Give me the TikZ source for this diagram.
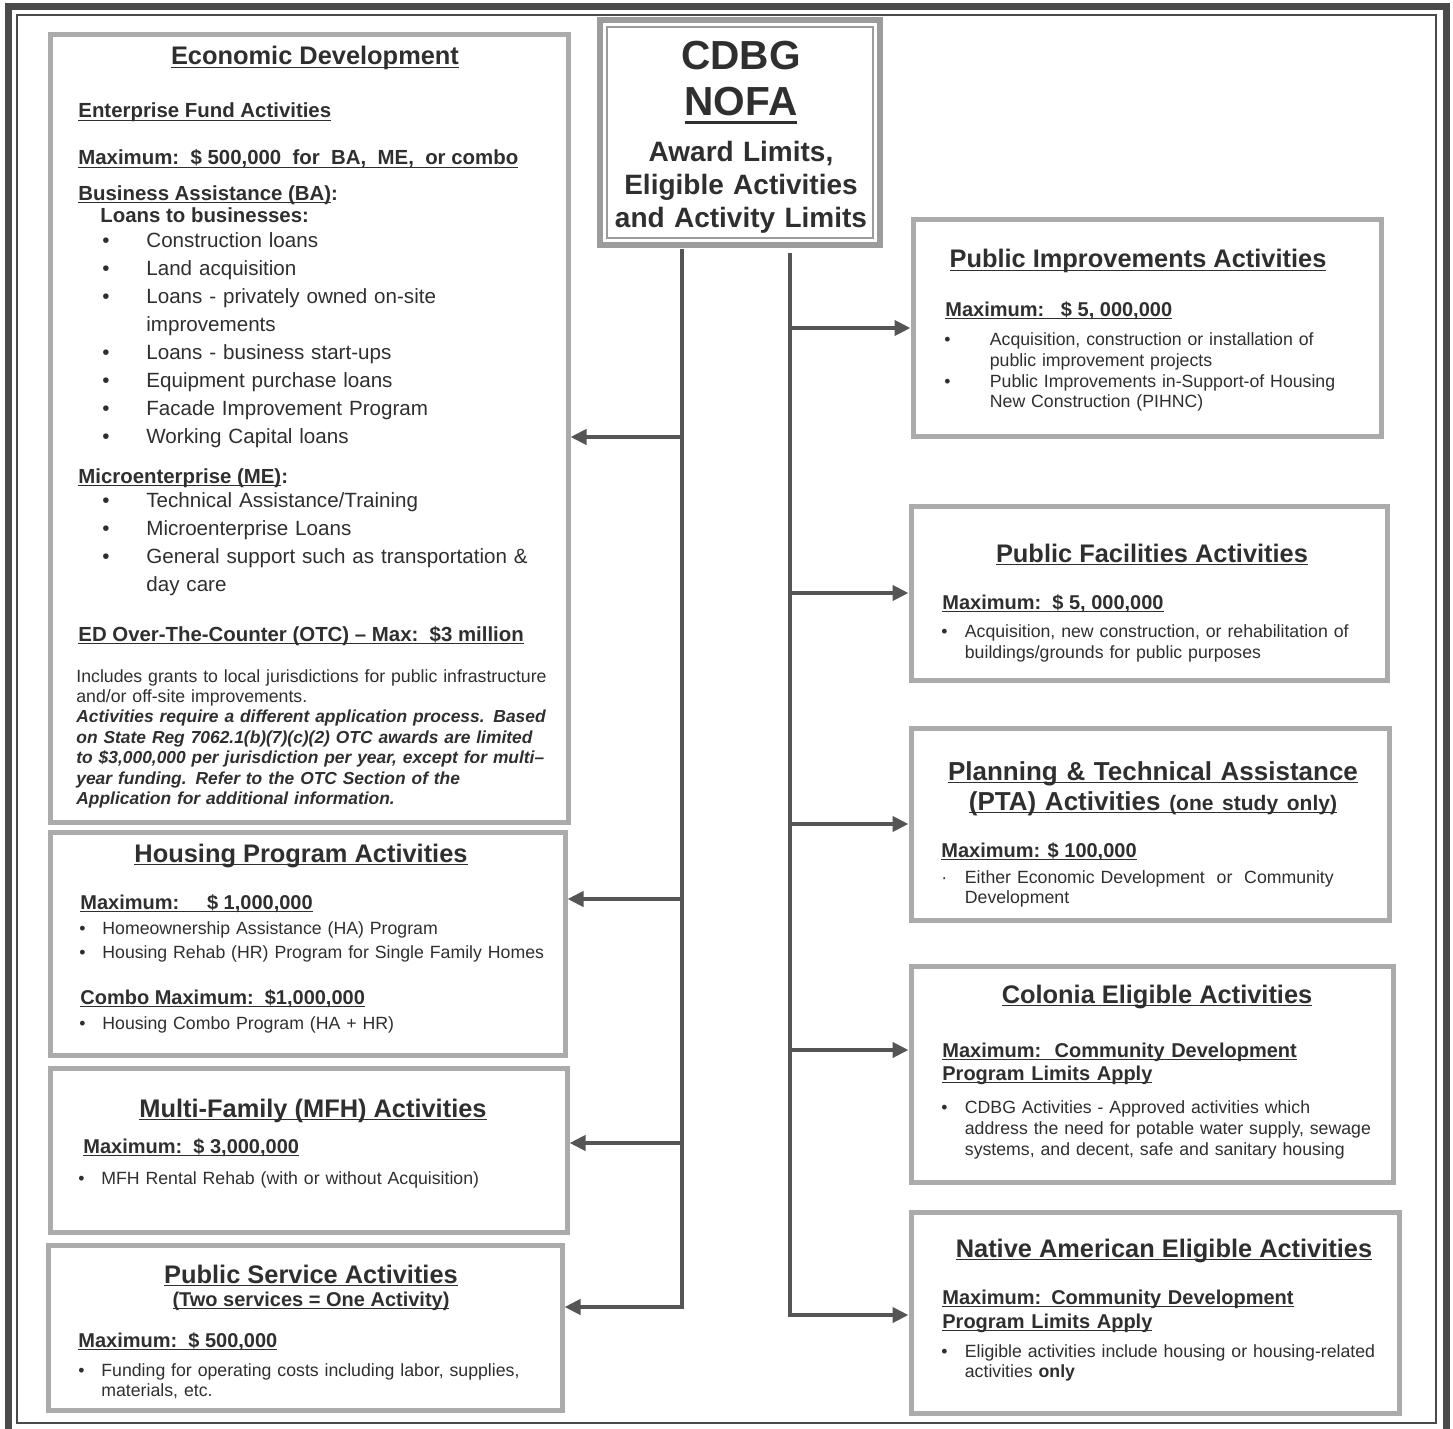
\documentclass[tikz,border=0pt]{standalone}
\usepackage{fontspec}
\setmainfont{Liberation Sans}
\usepackage{tikz}
\usetikzlibrary{arrows.meta,fit}
\definecolor{nofaInk}{HTML}{2F2F2F}
\definecolor{nofaBox}{HTML}{ABABAB}
\definecolor{nofaTitle}{HTML}{9C9C9C}
\definecolor{nofaLine}{HTML}{555555}
\definecolor{nofaFrame}{HTML}{4A4A4A}

% underline at a fixed depth, as the scanned sheet has it
\newlength{\ulthick}
\setlength{\ulthick}{0.7pt}
\newcommand{\uln}[2][1.7pt]{\leavevmode\setbox0=\hbox{#2}\rlap{\rule[-#1]{\wd0}{\ulthick}}\box0}
% bullet line with hanging indent
\newlength{\bulind}
\newcommand{\bitem}[2][\textbullet]{\hangindent=\bulind\hangafter=1\makebox[\bulind][l]{#1}#2\par}
\newcommand{\edfont}{\fontsize{10.3}{14}\selectfont}

\begin{document}
\begin{tikzpicture}[x=0.5pt, y=-0.5pt,
  box/.style={draw=nofaBox, line width=2.5pt, fill=white, inner sep=0pt},
  head/.style={anchor=base, inner sep=0pt, text=nofaInk, font=\fontsize{12.7}{15}\selectfont\bfseries},
  sub/.style={anchor=base west, inner sep=0pt, text=nofaInk, font=\fontsize{10}{11.5}\selectfont\bfseries},
  txt/.style={anchor=base west, inner sep=0pt, text=nofaInk, text width=250pt, align=left},
  spine/.style={draw=nofaLine, line width=2pt},
  link/.style={spine, -{Triangle[length=8pt, width=7.5pt]}}]
\useasboundingbox (0,0) rectangle (1453,1429);

% frame
\draw[nofaFrame, line width=3.5pt] (8,1429) -- (8,7) -- (1446,7) -- (1446,1429);
\draw[nofaFrame, line width=0.8pt] (17,15) rectangle (1436,1423);

% title
\node[box, draw=nofaTitle, line width=3pt, fit={(600,20) (880,245)}] (title) {};
\draw[nofaTitle, line width=0.8pt] ([shift={(5pt,-5pt)}]title.north west) rectangle ([shift={(-5pt,5pt)}]title.south east);
\node[anchor=base, inner sep=0pt, text=nofaInk, text width=135pt, align=center, font=\fontsize{20.3}{23}\selectfont\bfseries] (cdbg) at (741,70) {CDBG\\{\setlength{\ulthick}{1.5pt}\uln[4.2pt]{NOFA}}};
\node[anchor=base, inner sep=0pt, text=nofaInk, text width=135pt, align=center, font=\fontsize{14}{16.5}\selectfont\bfseries] (tsub) at (741,162) {Award Limits,\\Eligible Activities\\and Activity Limits};

% boxes
\node[box, fit={(50,35) (568,822)}] (ed) {};
\node[box, fit={(50,832) (565,1055)}] (hp) {};
\node[box, fit={(50,1068) (567,1232)}] (mfh) {};
\node[box, fit={(48,1245) (562,1410)}] (ps) {};
\node[box, fit={(913,220) (1381,436)}] (pi) {};
\node[box, fit={(911,506) (1387,680)}] (pf) {};
\node[box, fit={(911,728) (1389,920)}] (pta) {};
\node[box, fit={(911,966) (1393,1182)}] (col) {};
\node[box, fit={(911,1212) (1399,1413)}] (nat) {};

% economic development
\node[head] (edhead) at (315,65) {\uln{Economic Development}};
\node[sub, font=\fontsize{10.2}{12}\selectfont\bfseries] (edfund) at (78,118) {\uln{Enterprise Fund Activities}};
\node[sub, font=\fontsize{10.2}{12}\selectfont\bfseries] (edmax) at (78,165) {\uln{Maximum:\ \ \$ 500,000\ \ for\ \ BA,\ \ ME,\ \ or combo}};
\node[sub, font=\fontsize{10.2}{12}\selectfont\bfseries] (edba) at (78,200) {\uln{Business Assistance (BA)}:};
\node[sub, font=\fontsize{10.2}{12}\selectfont\bfseries] (edloans) at (100,223) {Loans to businesses:};
\node[txt, font=\edfont] (edbalist) at (102,248) {\setlength{\bulind}{22pt}%
  \bitem{Construction loans}\bitem{Land acquisition}%
  \bitem{Loans - privately owned on-site\newline improvements}%
  \bitem{Loans - business start-ups}\bitem{Equipment purchase loans}%
  \bitem{Facade Improvement Program}\bitem{Working Capital loans}};
\node[sub, font=\fontsize{10.2}{12}\selectfont\bfseries] (edme) at (78,483) {\uln{Microenterprise (ME)}:};
\node[txt, font=\edfont] (edmelist) at (102,507) {\setlength{\bulind}{22pt}%
  \bitem{Technical Assistance/Training}\bitem{Microenterprise Loans}%
  \bitem{General support such as transportation \&\newline day care}};
\node[sub, font=\fontsize{10.2}{12}\selectfont\bfseries] (edotc) at (78,641) {\uln{ED Over-The-Counter (OTC) -- Max:\ \ \$3 million}};
\node[txt, font=\fontsize{8.85}{10.2}\selectfont] (ednote) at (76,682) {Includes grants to local jurisdictions for public infrastructure\newline
  and/or off-site improvements.\newline
  {\bfseries\itshape\fontsize{8.7}{10.2}\selectfont Activities require a different application process. Based\newline
  on State Reg 7062.1(b)(7)(c)(2) OTC awards are limited\newline
  to \$3,000,000 per jurisdiction per year, except for multi--\newline
  year funding. Refer to the OTC Section of the\newline
  Application for additional information.}};

% housing
\node[head] (hphead) at (301,862) {\uln{Housing Program Activities}};
\node[sub] (hpmax) at (80,909) {\uln{Maximum:\ \ \ \ \ \$ 1,000,000}};
\node[txt, font=\fontsize{8.85}{12}\selectfont] (hplist) at (79,934) {\setlength{\bulind}{11.5pt}%
  \bitem{Homeownership Assistance (HA) Program}%
  \bitem{Housing Rehab (HR) Program for Single Family Homes}};
\node[sub] (hpcombo) at (80,1004) {\uln{Combo Maximum:\ \ \$1,000,000}};
\node[txt, font=\fontsize{8.85}{12}\selectfont] (hpcombolist) at (79,1029) {\setlength{\bulind}{11.5pt}%
  \bitem{Housing Combo Program (HA + HR)}};

% multi-family
\node[head] (mfhhead) at (313,1117) {\uln{Multi-Family (MFH) Activities}};
\node[sub] (mfhmax) at (83,1153) {\uln{Maximum:\ \ \$ 3,000,000}};
\node[txt, font=\fontsize{8.85}{10.5}\selectfont] (mfhlist) at (78,1184) {\setlength{\bulind}{11.5pt}%
  \bitem{MFH Rental Rehab (with or without Acquisition)}};

% public service
\node[head] (pshead) at (311,1283) {\uln{Public Service Activities}};
\node[sub, anchor=base] (psnote) at (311,1306) {\uln{(Two services = One Activity)}};
\node[sub] (psmax) at (78,1347) {\uln{Maximum:\ \ \$ 500,000}};
\node[txt, font=\fontsize{8.85}{10}\selectfont] (pslist) at (78,1376) {\setlength{\bulind}{11.5pt}%
  \bitem{Funding for operating costs including labor, supplies,\newline materials, etc.}};

% public improvements
\node[head] (pihead) at (1138,268) {\uln{Public Improvements Activities}};
\node[sub] (pimax) at (945,316) {\uln{Maximum:\ \ \ \$ 5, 000,000}};
\node[txt, font=\fontsize{8.85}{10.5}\selectfont] (pilist) at (944,345) {\setlength{\bulind}{22.75pt}%
  \bitem{Acquisition, construction or installation of\newline public improvement projects}%
  \bitem{Public Improvements in-Support-of Housing\newline New Construction (PIHNC)}};

% public facilities
\node[head] (pfhead) at (1152,562) {\uln{Public Facilities Activities}};
\node[sub] (pfmax) at (942,609) {\uln{Maximum:\ \ \$ 5, 000,000}};
\node[txt, font=\fontsize{8.85}{10.5}\selectfont] (pflist) at (941,637) {\setlength{\bulind}{11.75pt}%
  \bitem{Acquisition, new construction, or rehabilitation of\newline buildings/grounds for public purposes}};

% planning
\node[head, text width=240pt, align=center, font=\fontsize{13}{15}\selectfont\bfseries] (ptahead) at (1153,780) {\uln{Planning \& Technical Assistance}\\
  \uln{(PTA) Activities {\fontsize{10.5}{12}\selectfont(one study only)}}};
\node[sub] (ptamax) at (941,857) {\uln{Maximum: \$ 100,000}};
\node[txt, font=\fontsize{8.85}{10}\selectfont] (ptalist) at (941,883) {\setlength{\bulind}{11.75pt}%
  \bitem[\textperiodcentered]{Either Economic Development\ \ or\ \ Community\newline Development}};

% colonia
\node[head] (colhead) at (1157,1003) {\uln{Colonia Eligible Activities}};
\node[txt, font=\fontsize{10}{11.5}\selectfont\bfseries] (colmax) at (942,1057) {\uln{Maximum:\ \ Community Development}\newline\uln{Program Limits Apply}};
\node[txt, font=\fontsize{8.85}{10.5}\selectfont] (collist) at (941,1113) {\setlength{\bulind}{11.75pt}%
  \bitem{CDBG Activities - Approved activities which\newline address the need for potable water supply, sewage\newline systems, and decent, safe and sanitary housing}};

% native american
\node[head] (nathead) at (1164,1257) {\uln{Native American Eligible Activities}};
\node[txt, font=\fontsize{10}{12}\selectfont\bfseries] (natmax) at (942,1304) {\uln{Maximum: Community Development}\newline\uln{Program Limits Apply}};
\node[txt, font=\fontsize{8.85}{10}\selectfont] (natlist) at (941,1357) {\setlength{\bulind}{11.75pt}%
  \bitem{Eligible activities include housing or housing-related\newline activities \textbf{only}}};

% connectors
\coordinate (lspine) at (682,249);
\coordinate (rspine) at (790,253);
\coordinate (edin) at ([yshift=-4.25pt]ed.east);
\coordinate (hpin) at ([yshift=22.25pt]hp.east);
\coordinate (mfhin) at ([yshift=3.5pt]mfh.east);
\coordinate (psin) at ([yshift=10.25pt]ps.east);
\coordinate (piin) at (pi.west);
\coordinate (pfin) at (pf.west);
\coordinate (ptain) at (pta.west);
\coordinate (colin) at ([yshift=12pt]col.west);
\coordinate (natin) at ([yshift=-1.25pt]nat.west);
\draw[link] (lspine) -- (lspine |- psin) -- (psin);
\foreach \t in {edin,hpin,mfhin} \draw[link] (lspine |- \t) -- (\t);
\draw[link] (rspine) -- (rspine |- natin) -- (natin);
\foreach \t in {piin,pfin,ptain,colin} \draw[link] (rspine |- \t) -- (\t);
\end{tikzpicture}
\end{document}
